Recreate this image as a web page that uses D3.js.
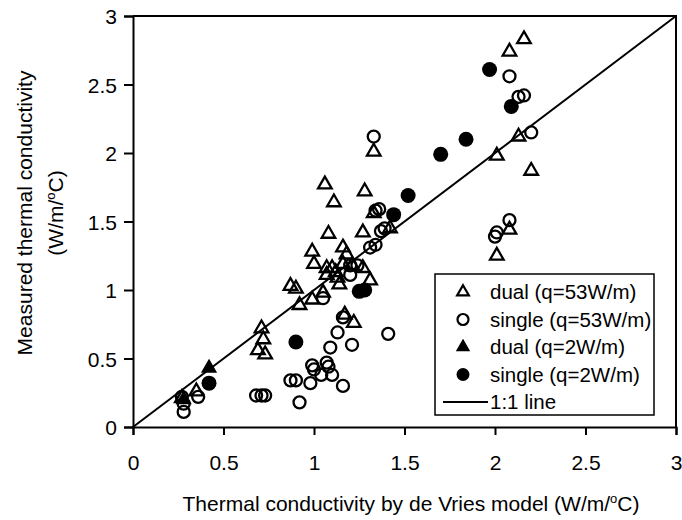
<!DOCTYPE html>
<html>
<head>
<meta charset="utf-8">
<script src="https://cdn.jsdelivr.net/npm/d3@7"></script>
<style>
  body { margin: 0; background: #fff; }
  text { font-family: "Liberation Sans", Arial, sans-serif; fill: #000; }
</style>
</head>
<body>
<div id="chart"></div>
<script>
// DATA  (x = de Vries model, y = measured)
const dual53 = [
  [2.16, 2.83], [2.08, 2.74], [2.13, 2.12], [2.01, 1.98], [2.20, 1.87], [2.08, 1.44],
  [2.01, 1.25], [1.33, 2.01], [1.06, 1.77], [1.11, 1.64], [1.28, 1.72], [1.33, 1.56],
  [1.08, 1.41], [1.27, 1.42], [1.42, 1.45], [0.99, 1.28], [1.00, 1.19], [1.16, 1.31],
  [1.18, 1.26], [1.07, 1.16], [1.10, 1.16], [1.12, 1.13], [1.16, 1.19], [1.21, 1.18],
  [1.07, 1.11], [1.13, 1.09], [1.14, 1.04], [1.31, 1.07], [1.27, 1.16], [0.87, 1.03],
  [0.90, 1.01], [0.92, 0.89], [0.99, 0.93], [1.05, 0.98], [0.71, 0.72], [0.72, 0.64],
  [0.69, 0.56], [0.73, 0.53], [1.17, 0.82], [1.22, 0.76], [0.35, 0.26], [0.27, 0.21]
]
const single53 = [
  [2.08, 2.56], [2.13, 2.41], [2.16, 2.42], [2.20, 2.15], [2.08, 1.51], [2.01, 1.42],
  [2.00, 1.39], [1.33, 2.12], [1.34, 1.58], [1.36, 1.59], [1.37, 1.43], [1.39, 1.45],
  [1.31, 1.31], [1.34, 1.33], [1.20, 1.18], [1.24, 1.18], [1.20, 1.11], [1.05, 0.94],
  [1.16, 0.80], [1.41, 0.68], [1.13, 0.69], [1.21, 0.60], [1.09, 0.58], [0.99, 0.45],
  [1.00, 0.42], [1.07, 0.47], [1.08, 0.44], [1.04, 0.38], [1.10, 0.38], [0.98, 0.32],
  [1.16, 0.30], [0.87, 0.34], [0.90, 0.34], [0.92, 0.18], [0.68, 0.23], [0.71, 0.23],
  [0.73, 0.23], [0.36, 0.22], [0.28, 0.17], [0.28, 0.11], [0.27, 0.22]
]
const dual2 = [[0.42, 0.43], [0.28, 0.20]]
const single2 = [
  [1.97, 2.61], [2.09, 2.34], [1.84, 2.10], [1.70, 1.99], [1.52, 1.69], [1.44, 1.55],
  [1.25, 0.99], [1.28, 1.00], [0.90, 0.62], [0.42, 0.32]
]
const ticks = [0, 0.5, 1, 1.5, 2, 2.5, 3]
const legendLabels = ["dual (q=53W/m)", "single (q=53W/m)", "dual (q=2W/m)", "single (q=2W/m)", "1:1 line"]

const width = 682, height = 520
const mLeft = 133, mRight = 676, mTop = 16, mBottom = 427

const svg = d3.select("#chart").append("svg")
    .attr("width", width)
    .attr("height", height)

// SCALES
const xScale = d3.scaleLinear().domain([0, 3]).range([mLeft, mRight])
const yScale = d3.scaleLinear().domain([0, 3]).range([mBottom, mTop])

// AXES
svg.append("g")
    .attr("transform", `translate(0, ${mBottom})`)
    .call(d3.axisBottom(xScale).tickValues(ticks).tickSize(8).tickPadding(20).tickFormat(d3.format("")))
    .call(g => g.select(".domain").attr("stroke-width", 2))
    .call(g => g.selectAll(".tick line").attr("stroke-width", 2))
    .call(g => g.selectAll("text").attr("font-size", 21).attr("font-family", "Liberation Sans, Arial, sans-serif"))

svg.append("g")
    .attr("transform", `translate(${mLeft}, 0)`)
    .call(d3.axisLeft(yScale).tickValues(ticks).tickSize(9).tickPadding(7).tickFormat(d3.format("")))
    .call(g => g.select(".domain").attr("stroke-width", 2))
    .call(g => g.selectAll(".tick line").attr("stroke-width", 2))
    .call(g => g.selectAll("text").attr("font-size", 21).attr("dy", "0.36em").attr("font-family", "Liberation Sans, Arial, sans-serif"))

// top and right frame
svg.append("path")
    .attr("d", `M${mLeft},${mTop}H${mRight}V${mBottom}`)
    .attr("fill", "none")
    .attr("stroke", "black")
    .attr("stroke-width", 2)

// 1:1 LINE
svg.append("line")
    .attr("x1", xScale(0)).attr("y1", yScale(0))
    .attr("x2", xScale(3)).attr("y2", yScale(3))
    .attr("stroke", "black")
    .attr("stroke-width", 2)

// POINTS
const tri = d3.symbol(d3.symbolTriangle, 80)

svg.append("g").selectAll("path")
    .data(dual53)
    .join("path")
    .attr("d", tri)
    .attr("transform", d => `translate(${xScale(d[0])}, ${yScale(d[1])})`)
    .attr("fill", "none")
    .attr("stroke", "black")
    .attr("stroke-width", 2.3)

svg.append("g").selectAll("circle")
    .data(single53)
    .join("circle")
    .attr("cx", d => xScale(d[0]))
    .attr("cy", d => yScale(d[1]))
    .attr("r", 6)
    .attr("fill", "none")
    .attr("stroke", "black")
    .attr("stroke-width", 2.3)

svg.append("g").selectAll("path")
    .data(dual2)
    .join("path")
    .attr("d", tri)
    .attr("transform", d => `translate(${xScale(d[0])}, ${yScale(d[1])})`)
    .attr("fill", "black")
    .attr("stroke", "black")
    .attr("stroke-width", 1.5)

svg.append("g").selectAll("circle")
    .data(single2)
    .join("circle")
    .attr("cx", d => xScale(d[0]))
    .attr("cy", d => yScale(d[1]))
    .attr("r", 7.5)
    .attr("fill", "black")

// LEGEND
const legend = svg.append("g")
legend.append("rect")
    .attr("x", 435).attr("y", 274)
    .attr("width", 219).attr("height", 141)
    .attr("fill", "white")
    .attr("stroke", "black")
    .attr("stroke-width", 1.5)

legendLabels.forEach((label, i) => {
  const cy = 292 + i * 27.5
  if (i == 0 || i == 2) {
    legend.append("path")
        .attr("d", d3.symbol(d3.symbolTriangle, 60))
        .attr("transform", `translate(463, ${cy})`)
        .attr("fill", i == 0 ? "none" : "black")
        .attr("stroke", "black")
        .attr("stroke-width", i == 0 ? 2.2 : 1.5)
  } else if (i == 1 || i == 3) {
    legend.append("circle")
        .attr("cx", 463).attr("cy", cy)
        .attr("r", i == 1 ? 5.5 : 6.5)
        .attr("fill", i == 1 ? "none" : "black")
        .attr("stroke", i == 1 ? "black" : "none")
        .attr("stroke-width", 2.2)
  } else {
    legend.append("line")
        .attr("x1", 443).attr("x2", 488)
        .attr("y1", cy).attr("y2", cy)
        .attr("stroke", "black")
        .attr("stroke-width", 2)
  }
  legend.append("text")
      .attr("x", 490)
      .attr("y", cy)
      .attr("dy", "0.36em")
      .attr("font-size", 20.5)
      .text(label)
})

// AXIS TITLES
const xTitle = svg.append("text")
    .attr("x", 411)
    .attr("y", 511)
    .attr("text-anchor", "middle")
    .attr("font-size", 21)
xTitle.append("tspan").text("Thermal conductivity by de Vries model (W/m/")
xTitle.append("tspan").attr("font-size", 13).attr("dy", -8).text("o")
xTitle.append("tspan").attr("dy", 8).text("C)")

const yTitle = svg.append("g")
    .attr("transform", "translate(0, 213) rotate(-90)")
yTitle.append("text")
    .attr("x", 0).attr("y", 32)
    .attr("text-anchor", "middle")
    .attr("font-size", 21)
    .text("Measured thermal conductivity")
const yUnit = yTitle.append("text")
    .attr("x", 0).attr("y", 63)
    .attr("text-anchor", "middle")
    .attr("font-size", 21)
yUnit.append("tspan").text("(W/m/")
yUnit.append("tspan").attr("font-size", 13).attr("dy", -8).text("o")
yUnit.append("tspan").attr("dy", 8).text("C)")
</script>
</body>
</html>
